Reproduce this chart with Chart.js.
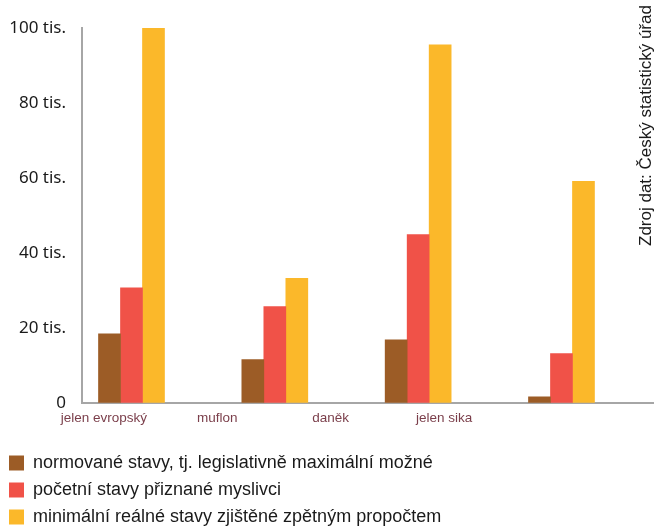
<!DOCTYPE html>
<html><head><meta charset="utf-8">
<script src="https://cdn.jsdelivr.net/npm/chart.js@4.4.1/dist/chart.umd.min.js"></script>
<style>
html,body{margin:0;padding:0;background:#fff;}
#wrap{position:relative;width:654px;height:528px;overflow:hidden;}
#src{position:absolute;left:637px;top:246px;transform-origin:0 0;transform:rotate(-90deg);font-family:"Liberation Sans",Arial,sans-serif;font-size:17px;line-height:17px;white-space:nowrap;color:#1a1a1a;}
</style></head><body>
<div id="wrap"><canvas id="c" width="654" height="528"></canvas><div id="src">Zdroj dat: Český statistický úřad</div></div>
<script>
// data (thousands of animals)
const categories = ['jelen evropský', 'muflon', 'daněk', 'jelen sika'];
const seriesNames = [
  'normované stavy, tj. legislativně maximální možné',
  'početní stavy přiznané myslivci',
  'minimální reálné stavy zjištěné zpětným propočtem'
];
const normovane = [18.4, 11.5, 16.8, 1.6];
const pocetni   = [30.7, 25.7, 44.9, 13.1];
const minimalni = [100, 33.2, 95.5, 59.1];
const yTicks = [0, 20, 40, 60, 80, 100];
const yTickLabels = ['0', '20 tis.', '40 tis.', '60 tis.', '80 tis.', '100 tis.'];

const colors = ['#9c5c26', '#f05248', '#fbb82a'];
const seriesValues = [normovane, pocetni, minimalni];

const toPoints = arr => arr.map((v, i) => ({ x: i, y: v }));

const sans = '"Liberation Sans", Arial, sans-serif';

new Chart(document.getElementById('c'), {
  type: 'bar',
  data: {
    datasets: seriesValues.map((vals, k) => ({
      label: seriesNames[k],
      data: toPoints(vals),
      backgroundColor: colors[k],
      borderWidth: 0,
      barThickness: 22,
      xAxisID: 'x',
      yAxisID: 'y'
    }))
  },
  options: {
    responsive: false,
    animation: false,
    layout: { padding: { top: 28, left: 0, right: 0, bottom: 0 } },
    plugins: {
      tooltip: { enabled: false },
      legend: {
        position: 'bottom',
        align: 'start',
        maxHeight: 83,
        labels: {
          boxWidth: 15,
          boxHeight: 15,
          padding: 9,
          color: '#1a1a1a',
          font: { family: sans, size: 18 }
        }
      }
    },
    scales: {
      x: {
        type: 'linear',
        position: 'bottom',
        offset: false,
        min: -0.3453,
        max: 3.6455,
        weight: 0,
        grid: { display: false, drawTicks: false, offset: false },
        border: { display: true, color: '#a6a6a6', width: 2 },
        ticks: { display: false }
      },
      xl: {
        type: 'linear',
        position: 'bottom',
        offset: false,
        min: -0.193,
        max: 4.851,
        weight: 1,
        grid: { display: false, drawTicks: false, offset: false },
        border: { display: false },
        afterBuildTicks: s => { s.ticks = categories.map((c, i) => ({ value: i })); },
        afterFit: s => { s.height += 12; },
        ticks: {
          autoSkip: false,
          maxRotation: 0,
          padding: 7,
          color: '#7b3f4b',
          font: { family: sans, size: 13.5 },
          callback: v => categories[v]
        }
      },
      y: {
        type: 'linear',
        min: 0,
        max: 100,
        afterFit: s => { s.width = 82; },
        afterBuildTicks: s => { s.ticks = yTicks.map(v => ({ value: v })); },
        grid: { display: false, drawTicks: false },
        border: { display: true, color: '#a6a6a6', width: 2 },
        ticks: {
          padding: 16,
          color: '#1a1a1a',
          font: { family: '"Noto Sans", sans-serif', size: 17 },
          callback: v => yTickLabels[yTicks.indexOf(v)]
        }
      }
    }
  }
});
</script>
</body></html>
